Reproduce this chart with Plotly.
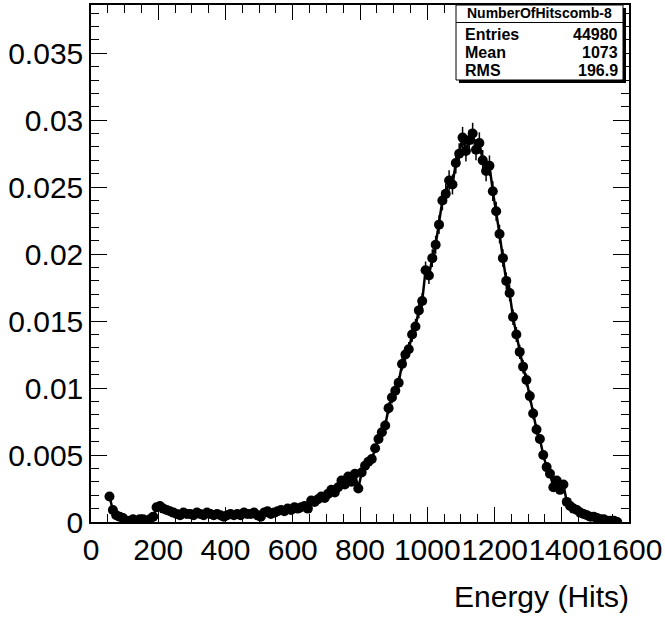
import plotly.graph_objects as go
import math

# ---- data ----
bin_centers = [55 + 10 * i for i in range(152)]
values = [
    0.0019, 0.0009, 0.0005, 0.0004, 0.0003, 0.0001, 0.0001, 0.0002, 0.0001, 0.0002,
    0.0002, 0.0001, 0.0002, 0.0004, 0.0011, 0.0012, 0.0010, 0.0009, 0.0008, 0.0007,
    0.0006, 0.0005, 0.0007, 0.0006, 0.0006, 0.0005, 0.0007, 0.0006, 0.0005, 0.0007,
    0.0006, 0.0005, 0.0006, 0.0005, 0.0004, 0.0005, 0.0006, 0.0005, 0.0006, 0.0005,
    0.0007, 0.0006, 0.0006, 0.0007, 0.0005, 0.0004, 0.0007, 0.0008, 0.0006, 0.0007,
    0.0008, 0.0009, 0.0008, 0.0010, 0.0009, 0.0011, 0.0010, 0.0011, 0.0012, 0.0010,
    0.0016, 0.0015, 0.0017, 0.0019, 0.0018, 0.0021, 0.0024, 0.0022, 0.0026, 0.0031,
    0.0028, 0.0034, 0.0030, 0.0036, 0.0025, 0.0037, 0.0042, 0.0045, 0.0047, 0.0055,
    0.0062, 0.0067, 0.0072, 0.0085, 0.0093, 0.0098, 0.0104, 0.0118, 0.0125, 0.0129,
    0.0140, 0.0146, 0.0158, 0.0165, 0.0188, 0.0184, 0.0197, 0.0207, 0.0222, 0.0240,
    0.0245, 0.0255, 0.0252, 0.0268, 0.0275, 0.0287, 0.0277, 0.0285, 0.0290, 0.0278,
    0.0283, 0.0270, 0.0262, 0.0266, 0.0247, 0.0232, 0.0215, 0.0197, 0.0180, 0.0171,
    0.0153, 0.0140, 0.0127, 0.0116, 0.0106, 0.0094, 0.0081, 0.0069, 0.0062, 0.0050,
    0.0041, 0.0036, 0.0026, 0.0031, 0.0024, 0.0028, 0.0015, 0.0012, 0.0010, 0.0009,
    0.0007, 0.0006, 0.0005, 0.0004, 0.0004, 0.0003, 0.0002, 0.0002, 0.0001, 0.0001,
    0.0001, 0.0000,
]
entries = 44980
stats_title = "NumberOfHitscomb-8"
stats_labels = ["Entries", "Mean", "RMS"]
stats_values = ["44980", "1073", "196.9"]
x_tick_vals = [0, 200, 400, 600, 800, 1000, 1200, 1400, 1600]
y_tick_vals = [0, 0.005, 0.01, 0.015, 0.02, 0.025, 0.03, 0.035]
y_tick_text = ["0", "0.005", "0.01", "0.015", "0.02", "0.025", "0.03", "0.035"]
x_title = "Energy (Hits)"

errors = [math.sqrt(v / entries) for v in values]

FONT = "Liberation Sans, Arial, Helvetica, sans-serif"

fig = go.Figure()
fig.add_trace(go.Scatter(
    x=bin_centers, y=values, mode="lines",
    line=dict(color="black", width=2.5), hoverinfo="skip", showlegend=False,
))
fig.add_trace(go.Scatter(
    x=bin_centers, y=values, mode="markers",
    marker=dict(color="black", size=10, symbol="circle"),
    error_y=dict(type="data", array=errors, visible=True, color="black",
                 thickness=1.5, width=0),
    showlegend=False,
))

axis_common = dict(
    showgrid=False, zeroline=False, showline=True, linecolor="black",
    linewidth=1.5, mirror="ticks", ticks="inside", tickcolor="black",
    tickwidth=1, automargin=False, tickangle=0,
    tickfont=dict(family=FONT, size=30, color="black"),
)
fig.update_xaxes(
    range=[0, 1600], tickvals=x_tick_vals, ticklen=15,
    minor=dict(dtick=50, ticks="inside", ticklen=8, tickcolor="black", tickwidth=1),
    **axis_common,
)
fig.update_yaxes(
    range=[0, 0.0386], tickvals=y_tick_vals, ticktext=y_tick_text, ticklen=16,
    minor=dict(dtick=0.001, ticks="inside", ticklen=8, tickcolor="black", tickwidth=1),
    **axis_common,
)

# stats box (paper coords): plot px x 91..629, y 5..522
def px_x(p):
    return (p - 91) / 538.0

def px_y(p):
    return (522 - p) / 517.0

shapes = []
# shadow
shapes.append(dict(type="rect", xref="paper", yref="paper",
                   x0=px_x(459), x1=px_x(626), y0=px_y(83), y1=px_y(8),
                   fillcolor="black", line=dict(width=0)))
shapes.append(dict(type="rect", xref="paper", yref="paper",
                   x0=px_x(456), x1=px_x(623), y0=px_y(80), y1=px_y(5),
                   fillcolor="white", line=dict(color="black", width=1)))
shapes.append(dict(type="line", xref="paper", yref="paper",
                   x0=px_x(456), x1=px_x(623), y0=px_y(22.5), y1=px_y(22.5),
                   line=dict(color="black", width=1)))

annotations = [
    dict(text="<b>" + stats_title + "</b>", xref="paper", yref="paper",
         x=px_x(539.5), y=px_y(13.5), xanchor="center", yanchor="middle",
         showarrow=False, font=dict(family=FONT, size=14, color="black")),
]
row_y = [34, 52.5, 71]
for lab, val, yy in zip(stats_labels, stats_values, row_y):
    annotations.append(dict(text="<b>" + lab + "</b>", xref="paper", yref="paper",
                            x=px_x(463), y=px_y(yy), xanchor="left", yanchor="middle",
                            showarrow=False, font=dict(family=FONT, size=16, color="black")))
    annotations.append(dict(text="<b>" + val + "</b>", xref="paper", yref="paper",
                            x=px_x(620), y=px_y(yy), xanchor="right", yanchor="middle",
                            showarrow=False, font=dict(family=FONT, size=16, color="black")))
annotations.append(dict(text=x_title, xref="paper", yref="paper",
                        x=px_x(631), y=px_y(596), xanchor="right", yanchor="middle",
                        showarrow=False, font=dict(family=FONT, size=30, color="black")))

fig.update_layout(
    width=665, height=619,
    margin=dict(l=91, r=36, t=5, b=97, autoexpand=False),
    paper_bgcolor="white", plot_bgcolor="white",
    shapes=shapes, annotations=annotations,
    font=dict(family=FONT, color="black"),
)

fig.write_html(
    "out.html",
    config={"displayModeBar": False},
    post_script="document.body.style.margin='0';document.body.style.padding='0';",
)
